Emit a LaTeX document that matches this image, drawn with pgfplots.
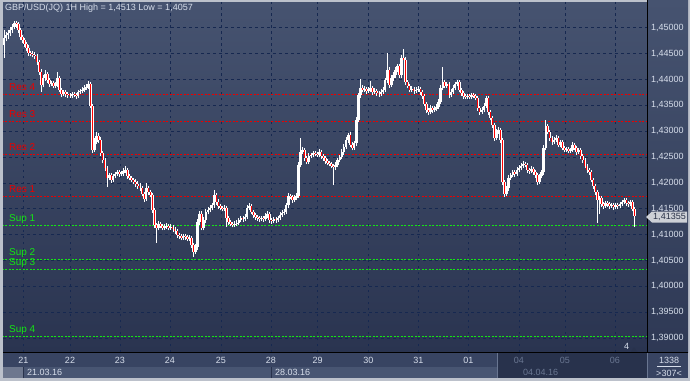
\documentclass[border=0pt]{standalone}
\usepackage{fontspec}
\setmainfont{Liberation Sans}
\usepackage{pgfplots}
\usepackage{pgfplotstable}
\pgfplotsset{compat=1.18}
\definecolor{bgtop}{RGB}{70,83,112}
\definecolor{bgbot}{RGB}{42,52,80}
\definecolor{gridc}{RGB}{22,40,80}
\definecolor{resred}{RGB}{235,0,0}
\definecolor{supgreen}{RGB}{20,230,20}
\definecolor{lbl}{RGB}{215,222,235}
\definecolor{lblgrey}{RGB}{105,118,145}
\definecolor{framec}{RGB}{188,193,203}
\definecolor{rowtop}{RGB}{56,68,98}
\definecolor{rowbot}{RGB}{72,85,114}
\definecolor{rowdark}{RGB}{40,50,76}
\definecolor{tagc}{RGB}{205,208,214}
\definecolor{tagtext}{RGB}{40,48,70}
\definecolor{candlered}{RGB}{255,0,0}

\pgfplotstableread{
i o h l c
0 1.4467 1.4496 1.4442 1.4480
1 1.4480 1.4492 1.4474 1.4486
2 1.4486 1.4496 1.4478 1.4490
3 1.4490 1.4502 1.4484 1.4496
4 1.4496 1.4508 1.4490 1.4502
5 1.4502 1.4513 1.4497 1.4510
6 1.4510 1.4513 1.4500 1.4508
7 1.4508 1.4512 1.4490 1.4496
8 1.4496 1.4500 1.4477 1.4482
9 1.4482 1.4486 1.4471 1.4477
10 1.4477 1.4481 1.4464 1.4469
11 1.4469 1.4473 1.4456 1.4461
12 1.4461 1.4466 1.4446 1.4451
13 1.4451 1.4456 1.4445 1.4450
14 1.4450 1.4455 1.4443 1.4448
15 1.4448 1.4453 1.4440 1.4446
16 1.4446 1.4450 1.4428 1.4434
17 1.4434 1.4438 1.4409 1.4415
18 1.4415 1.4420 1.4376 1.4390
19 1.4390 1.4408 1.4385 1.4403
20 1.4403 1.4419 1.4398 1.4411
21 1.4411 1.4415 1.4394 1.4399
22 1.4399 1.4404 1.4386 1.4391
23 1.4391 1.4398 1.4387 1.4393
24 1.4393 1.4397 1.4383 1.4388
25 1.4388 1.4395 1.4384 1.4390
26 1.4390 1.4415 1.4386 1.4403
27 1.4403 1.4407 1.4376 1.4380
28 1.4380 1.4384 1.4366 1.4372
29 1.4372 1.4380 1.4368 1.4376
30 1.4376 1.4380 1.4367 1.4372
31 1.4372 1.4376 1.4365 1.4370
32 1.4370 1.4374 1.4364 1.4368
33 1.4368 1.4376 1.4364 1.4372
34 1.4372 1.4376 1.4366 1.4370
35 1.4370 1.4374 1.4363 1.4368
36 1.4368 1.4380 1.4364 1.4376
37 1.4376 1.4382 1.4372 1.4378
38 1.4378 1.4386 1.4374 1.4380
39 1.4380 1.4390 1.4376 1.4384
40 1.4384 1.4391 1.4380 1.4386
41 1.4386 1.4397 1.4382 1.4391
42 1.4391 1.4395 1.4345 1.4349
43 1.4349 1.4353 1.4258 1.4264
44 1.4264 1.4287 1.4260 1.4279
45 1.4279 1.4299 1.4275 1.4291
46 1.4291 1.4296 1.4278 1.4283
47 1.4283 1.4288 1.4252 1.4258
48 1.4258 1.4262 1.4238 1.4244
49 1.4244 1.4248 1.4223 1.4229
50 1.4229 1.4233 1.4192 1.4210
51 1.4210 1.4220 1.4205 1.4215
52 1.4215 1.4219 1.4200 1.4206
53 1.4206 1.4218 1.4202 1.4213
54 1.4213 1.4222 1.4209 1.4217
55 1.4217 1.4226 1.4213 1.4221
56 1.4221 1.4225 1.4212 1.4217
57 1.4217 1.4224 1.4213 1.4219
58 1.4219 1.4228 1.4214 1.4223
59 1.4223 1.4232 1.4219 1.4225
60 1.4225 1.4229 1.4208 1.4213
61 1.4213 1.4218 1.4205 1.4210
62 1.4210 1.4214 1.4201 1.4206
63 1.4206 1.4210 1.4197 1.4202
64 1.4202 1.4207 1.4193 1.4198
65 1.4198 1.4203 1.4189 1.4194
66 1.4194 1.4199 1.4185 1.4190
67 1.4190 1.4194 1.4174 1.4179
68 1.4179 1.4183 1.4163 1.4169
69 1.4169 1.4200 1.4165 1.4190
70 1.4190 1.4195 1.4177 1.4182
71 1.4182 1.4187 1.4172 1.4177
72 1.4177 1.4181 1.4142 1.4148
73 1.4148 1.4152 1.4113 1.4119
74 1.4119 1.4123 1.4084 1.4113
75 1.4113 1.4126 1.4108 1.4121
76 1.4121 1.4125 1.4112 1.4117
77 1.4117 1.4121 1.4108 1.4113
78 1.4113 1.4120 1.4109 1.4115
79 1.4115 1.4122 1.4111 1.4117
80 1.4117 1.4121 1.4108 1.4113
81 1.4113 1.4120 1.4109 1.4115
82 1.4115 1.4119 1.4106 1.4111
83 1.4111 1.4115 1.4102 1.4107
84 1.4107 1.4111 1.4094 1.4099
85 1.4099 1.4104 1.4092 1.4097
86 1.4097 1.4101 1.4089 1.4094
87 1.4094 1.4102 1.4090 1.4097
88 1.4097 1.4101 1.4090 1.4095
89 1.4095 1.4099 1.4087 1.4092
90 1.4092 1.4099 1.4088 1.4094
91 1.4094 1.4098 1.4075 1.4080
92 1.4080 1.4084 1.4057 1.4067
93 1.4067 1.4081 1.4062 1.4076
94 1.4076 1.4130 1.4071 1.4124
95 1.4124 1.4146 1.4119 1.4140
96 1.4140 1.4145 1.4108 1.4113
97 1.4113 1.4134 1.4108 1.4128
98 1.4128 1.4150 1.4123 1.4144
99 1.4144 1.4153 1.4139 1.4148
100 1.4148 1.4157 1.4143 1.4152
101 1.4152 1.4162 1.4147 1.4157
102 1.4157 1.4186 1.4152 1.4177
103 1.4177 1.4181 1.4158 1.4163
104 1.4163 1.4168 1.4150 1.4155
105 1.4155 1.4159 1.4147 1.4152
106 1.4152 1.4156 1.4145 1.4150
107 1.4150 1.4157 1.4146 1.4152
108 1.4152 1.4156 1.4115 1.4132
109 1.4132 1.4136 1.4119 1.4124
110 1.4124 1.4128 1.4116 1.4121
111 1.4121 1.4125 1.4114 1.4119
112 1.4119 1.4126 1.4115 1.4121
113 1.4121 1.4128 1.4117 1.4123
114 1.4123 1.4133 1.4119 1.4128
115 1.4128 1.4137 1.4124 1.4132
116 1.4132 1.4136 1.4125 1.4130
117 1.4130 1.4139 1.4126 1.4134
118 1.4134 1.4157 1.4130 1.4152
119 1.4152 1.4161 1.4148 1.4155
120 1.4155 1.4159 1.4139 1.4144
121 1.4144 1.4148 1.4133 1.4138
122 1.4138 1.4142 1.4129 1.4134
123 1.4134 1.4138 1.4127 1.4132
124 1.4132 1.4136 1.4125 1.4130
125 1.4130 1.4137 1.4126 1.4132
126 1.4132 1.4136 1.4125 1.4130
127 1.4130 1.4141 1.4126 1.4136
128 1.4136 1.4145 1.4132 1.4140
129 1.4140 1.4144 1.4123 1.4128
130 1.4128 1.4132 1.4121 1.4126
131 1.4126 1.4135 1.4122 1.4130
132 1.4130 1.4134 1.4123 1.4128
133 1.4128 1.4137 1.4124 1.4132
134 1.4132 1.4143 1.4128 1.4138
135 1.4138 1.4147 1.4134 1.4142
136 1.4142 1.4149 1.4138 1.4144
137 1.4144 1.4162 1.4140 1.4157
138 1.4157 1.4181 1.4152 1.4175
139 1.4175 1.4179 1.4168 1.4173
140 1.4173 1.4177 1.4162 1.4167
141 1.4167 1.4176 1.4163 1.4171
142 1.4171 1.4180 1.4167 1.4175
143 1.4175 1.4240 1.4170 1.4235
144 1.4235 1.4287 1.4230 1.4260
145 1.4260 1.4270 1.4256 1.4264
146 1.4264 1.4268 1.4243 1.4248
147 1.4248 1.4252 1.4236 1.4241
148 1.4241 1.4257 1.4237 1.4252
149 1.4252 1.4258 1.4249 1.4254
150 1.4254 1.4262 1.4250 1.4258
151 1.4258 1.4262 1.4252 1.4256
152 1.4256 1.4260 1.4250 1.4254
153 1.4254 1.4265 1.4250 1.4260
154 1.4260 1.4264 1.4247 1.4252
155 1.4252 1.4256 1.4243 1.4248
156 1.4248 1.4252 1.4237 1.4242
157 1.4242 1.4246 1.4234 1.4239
158 1.4239 1.4243 1.4232 1.4237
159 1.4237 1.4241 1.4228 1.4233
160 1.4233 1.4237 1.4196 1.4231
161 1.4231 1.4240 1.4226 1.4235
162 1.4235 1.4249 1.4230 1.4244
163 1.4244 1.4255 1.4240 1.4250
164 1.4250 1.4265 1.4246 1.4260
165 1.4260 1.4275 1.4255 1.4270
166 1.4270 1.4288 1.4265 1.4283
167 1.4283 1.4297 1.4278 1.4293
168 1.4293 1.4298 1.4269 1.4274
169 1.4274 1.4279 1.4263 1.4268
170 1.4268 1.4282 1.4264 1.4277
171 1.4277 1.4327 1.4272 1.4322
172 1.4322 1.4375 1.4317 1.4370
173 1.4370 1.4401 1.4365 1.4384
174 1.4384 1.4389 1.4375 1.4380
175 1.4380 1.4387 1.4376 1.4382
176 1.4382 1.4386 1.4373 1.4378
177 1.4378 1.4385 1.4374 1.4380
178 1.4380 1.4397 1.4376 1.4384
179 1.4384 1.4388 1.4371 1.4376
180 1.4376 1.4383 1.4372 1.4378
181 1.4378 1.4382 1.4369 1.4374
182 1.4374 1.4378 1.4367 1.4372
183 1.4372 1.4381 1.4368 1.4376
184 1.4376 1.4385 1.4372 1.4380
185 1.4380 1.4404 1.4376 1.4399
186 1.4399 1.4451 1.4394 1.4419
187 1.4419 1.4424 1.4384 1.4390
188 1.4390 1.4408 1.4386 1.4403
189 1.4403 1.4414 1.4398 1.4409
190 1.4409 1.4424 1.4404 1.4419
191 1.4419 1.4431 1.4414 1.4426
192 1.4426 1.4430 1.4404 1.4409
193 1.4409 1.4447 1.4404 1.4442
194 1.4442 1.4459 1.4437 1.4438
195 1.4438 1.4443 1.4390 1.4395
196 1.4395 1.4400 1.4383 1.4388
197 1.4388 1.4392 1.4375 1.4380
198 1.4380 1.4387 1.4376 1.4382
199 1.4382 1.4386 1.4373 1.4378
200 1.4378 1.4385 1.4374 1.4380
201 1.4380 1.4387 1.4376 1.4382
202 1.4382 1.4386 1.4371 1.4376
203 1.4376 1.4380 1.4363 1.4368
204 1.4368 1.4372 1.4348 1.4353
205 1.4353 1.4357 1.4336 1.4341
206 1.4341 1.4345 1.4332 1.4337
207 1.4337 1.4350 1.4333 1.4345
208 1.4345 1.4349 1.4336 1.4341
209 1.4341 1.4348 1.4337 1.4343
210 1.4343 1.4352 1.4339 1.4347
211 1.4347 1.4362 1.4343 1.4357
212 1.4357 1.4389 1.4352 1.4384
213 1.4384 1.4424 1.4379 1.4395
214 1.4395 1.4400 1.4383 1.4388
215 1.4388 1.4396 1.4384 1.4391
216 1.4391 1.4395 1.4365 1.4370
217 1.4370 1.4381 1.4366 1.4376
218 1.4376 1.4389 1.4372 1.4384
219 1.4384 1.4396 1.4380 1.4391
220 1.4391 1.4400 1.4387 1.4395
221 1.4395 1.4399 1.4375 1.4380
222 1.4380 1.4384 1.4369 1.4374
223 1.4374 1.4378 1.4363 1.4368
224 1.4368 1.4372 1.4362 1.4366
225 1.4366 1.4373 1.4362 1.4368
226 1.4368 1.4372 1.4362 1.4366
227 1.4366 1.4375 1.4362 1.4370
228 1.4370 1.4374 1.4364 1.4368
229 1.4368 1.4372 1.4360 1.4364
230 1.4364 1.4368 1.4340 1.4345
231 1.4345 1.4349 1.4332 1.4337
232 1.4337 1.4346 1.4333 1.4341
233 1.4341 1.4354 1.4337 1.4349
234 1.4349 1.4368 1.4345 1.4364
235 1.4364 1.4368 1.4332 1.4337
236 1.4337 1.4341 1.4321 1.4326
237 1.4326 1.4330 1.4307 1.4312
238 1.4312 1.4316 1.4282 1.4287
239 1.4287 1.4304 1.4283 1.4299
240 1.4299 1.4308 1.4295 1.4303
241 1.4303 1.4307 1.4278 1.4283
242 1.4283 1.4287 1.4196 1.4202
243 1.4202 1.4206 1.4173 1.4179
244 1.4179 1.4195 1.4174 1.4190
245 1.4190 1.4215 1.4185 1.4210
246 1.4210 1.4220 1.4206 1.4215
247 1.4215 1.4226 1.4211 1.4221
248 1.4221 1.4225 1.4212 1.4217
249 1.4217 1.4230 1.4213 1.4225
250 1.4225 1.4234 1.4221 1.4229
251 1.4229 1.4238 1.4225 1.4233
252 1.4233 1.4242 1.4229 1.4237
253 1.4237 1.4241 1.4230 1.4235
254 1.4235 1.4239 1.4220 1.4225
255 1.4225 1.4229 1.4218 1.4223
256 1.4223 1.4232 1.4219 1.4227
257 1.4227 1.4231 1.4216 1.4221
258 1.4221 1.4225 1.4210 1.4215
259 1.4215 1.4219 1.4196 1.4202
260 1.4202 1.4218 1.4198 1.4213
261 1.4213 1.4226 1.4209 1.4221
262 1.4221 1.4273 1.4216 1.4268
263 1.4268 1.4322 1.4263 1.4310
264 1.4310 1.4314 1.4294 1.4299
265 1.4299 1.4303 1.4282 1.4287
266 1.4287 1.4291 1.4274 1.4279
267 1.4279 1.4288 1.4275 1.4283
268 1.4283 1.4292 1.4279 1.4287
269 1.4287 1.4291 1.4269 1.4274
270 1.4274 1.4284 1.4270 1.4279
271 1.4279 1.4283 1.4263 1.4268
272 1.4268 1.4272 1.4259 1.4264
273 1.4264 1.4270 1.4260 1.4266
274 1.4266 1.4270 1.4257 1.4262
275 1.4262 1.4268 1.4258 1.4264
276 1.4264 1.4279 1.4260 1.4274
277 1.4274 1.4278 1.4263 1.4268
278 1.4268 1.4272 1.4255 1.4260
279 1.4260 1.4268 1.4256 1.4264
280 1.4264 1.4268 1.4247 1.4252
281 1.4252 1.4256 1.4239 1.4244
282 1.4244 1.4248 1.4228 1.4233
283 1.4233 1.4237 1.4220 1.4225
284 1.4225 1.4229 1.4216 1.4221
285 1.4221 1.4225 1.4201 1.4206
286 1.4206 1.4210 1.4189 1.4194
287 1.4194 1.4198 1.4177 1.4182
288 1.4182 1.4186 1.4123 1.4167
289 1.4167 1.4175 1.4140 1.4171
290 1.4171 1.4175 1.4154 1.4159
291 1.4159 1.4163 1.4150 1.4155
292 1.4155 1.4165 1.4151 1.4161
293 1.4161 1.4165 1.4154 1.4159
294 1.4159 1.4163 1.4150 1.4155
295 1.4155 1.4161 1.4151 1.4157
296 1.4157 1.4161 1.4148 1.4153
297 1.4153 1.4161 1.4149 1.4157
298 1.4157 1.4161 1.4150 1.4155
299 1.4155 1.4163 1.4151 1.4159
300 1.4159 1.4167 1.4155 1.4163
301 1.4163 1.4171 1.4159 1.4167
302 1.4167 1.4171 1.4156 1.4161
303 1.4161 1.4165 1.4154 1.4159
304 1.4159 1.4167 1.4155 1.4163
305 1.4163 1.4167 1.4145 1.4150
306 1.4150 1.4154 1.4115 1.41355
}\data

\begin{document}
\begin{tikzpicture}[x=1pt,y=1pt]
\path[use as bounding box] (0,0) rectangle (690,381);
\fill[framec] (0,0) rectangle (690,381);
% right panel
\shade[top color=bgtop, bottom color=bgbot!85!bgtop] (647,29) rectangle (688,381);
% bottom strip
\fill[rowtop] (3,14.3) rectangle (647,29);
\fill[rowbot] (3,3) rectangle (647,14.3);
\fill[rowbot!80!white] (3,3) rectangle (23,14.3);
\fill[rowdark] (497,3) rectangle (647,29);
\fill[rowtop] (647,3) rectangle (688,29);
\draw[rowdark, line width=0.8pt] (23.3,3) -- (23.3,14.3);
\draw[rowdark, line width=0.8pt] (271,3) -- (271,14.3);
\draw[lblgrey, line width=0.8pt] (497,3) -- (497,29);
\draw[lblgrey, line width=0.6pt] (647.5,3) -- (647.5,29);

\begin{axis}[
  at={(3pt,29pt)}, anchor=south west,
  scale only axis, width=644pt, height=350pt,
  xmin=-0.485, xmax=312.14, ymin=1.38729, ymax=1.45501,
  axis background/.style={top color=bgtop, bottom color=bgbot},
  axis line style={draw=none},
  tick style={draw=none},
  major tick length=0pt,
  grid=major,
  major grid style={gridc, line width=0.8pt, dash pattern=on 2.5pt off 3.5pt},
  ytick={1.39,1.395,1.40,1.405,1.41,1.415,1.42,1.425,1.43,1.435,1.44,1.445,1.45},
  yticklabel pos=right,
  yticklabel style={anchor=west, inner sep=0pt, xshift=4pt, text=lbl,
    font=\fontsize{9}{10}\selectfont,
    /pgf/number format/.cd, fixed, fixed zerofill, precision=5, use comma, assume math mode=true},
  xtick={9.37,32.04,56.31,80.58,105.34,129.61,152.28,176.84,201.12,225.39,250.0,272.33,296.6},
  xticklabels={21,22,23,24,25,28,29,30,31,01,\textcolor{lblgrey}{04},\textcolor{lblgrey}{05},\textcolor{lblgrey}{06}},
  xticklabel style={anchor=north, inner sep=0pt, yshift=-5pt, text=lbl,
    font=\fontsize{9}{10}\selectfont},
  clip=true,
]
% resistance / support lines
\addplot[resred, line width=0.8pt, dash pattern=on 2pt off 1.5pt] coordinates {(-1,1.43717) (313,1.43717)};
\addplot[resred, line width=0.8pt, dash pattern=on 2pt off 1.5pt] coordinates {(-1,1.43194) (313,1.43194)};
\addplot[resred, line width=0.8pt, dash pattern=on 2pt off 1.5pt] coordinates {(-1,1.42556) (313,1.42556)};
\addplot[resred, line width=0.8pt, dash pattern=on 2pt off 1.5pt] coordinates {(-1,1.41735) (313,1.41735)};
\addplot[supgreen, line width=0.8pt, dash pattern=on 2pt off 1.5pt] coordinates {(-1,1.41187) (313,1.41187)};
\addplot[supgreen, line width=0.8pt, dash pattern=on 2pt off 1.5pt] coordinates {(-1,1.40523) (313,1.40523)};
\addplot[supgreen, line width=0.8pt, dash pattern=on 2pt off 1.5pt] coordinates {(-1,1.40330) (313,1.40330)};
\addplot[supgreen, line width=0.8pt, dash pattern=on 2pt off 1.5pt] coordinates {(-1,1.39033) (313,1.39033)};
% candles: wicks
\addplot[white, line width=0.8pt, -, quiver={u=0, v=\thisrow{h}-\thisrow{l}}] table[x=i, y=l] {\data};
% bodies
\addplot[white, line width=2.5pt, -, quiver={u=0, v=\thisrow{c}-\thisrow{o}}] table[x=i, y=o] {\data};
% down-candle inner
\addplot[candlered, line width=1.0pt, -, quiver={u=0, v=\thisrow{c}-\thisrow{o}},
  unbounded coords=discard,
  y filter/.expression={\thisrow{c}<\thisrow{o} ? \thisrow{o} : nan}] table[x=i, y=o] {\data};
% labels
\node[anchor=base west, inner sep=0pt, text=resred, font=\fontsize{10}{12}\selectfont, yshift=4pt] at (axis cs:2.4,1.43717) {Res 4};
\node[anchor=base west, inner sep=0pt, text=resred, font=\fontsize{10}{12}\selectfont, yshift=4pt] at (axis cs:2.4,1.43194) {Res 3};
\node[anchor=base west, inner sep=0pt, text=resred, font=\fontsize{10}{12}\selectfont, yshift=4pt] at (axis cs:2.4,1.42556) {Res 2};
\node[anchor=base west, inner sep=0pt, text=resred, font=\fontsize{10}{12}\selectfont, yshift=4pt] at (axis cs:2.4,1.41735) {Res 1};
\node[anchor=base west, inner sep=0pt, text=supgreen, font=\fontsize{10}{12}\selectfont, yshift=3.5pt] at (axis cs:2.4,1.41187) {Sup 1};
\node[anchor=base west, inner sep=0pt, text=supgreen, font=\fontsize{10}{12}\selectfont, yshift=3.5pt] at (axis cs:2.4,1.40523) {Sup 2};
\node[anchor=base west, inner sep=0pt, text=supgreen, font=\fontsize{10}{12}\selectfont, yshift=3.5pt] at (axis cs:2.4,1.40330) {Sup 3};
\node[anchor=base west, inner sep=0pt, text=supgreen, font=\fontsize{10}{12}\selectfont, yshift=3.5pt] at (axis cs:2.4,1.39033) {Sup 4};
\end{axis}

% frame lines
\draw[black, line width=1pt] (647,29) -- (647,381);
\draw[black, line width=1pt] (3,29) -- (688,29);
% title
\node[anchor=base west, inner sep=0pt, text=lbl, font=\fontsize{9}{10}\selectfont] at (5,370) {GBP/USD(JQ) 1H High = 1,4513 Low = 1,4057};
% current price tag
\fill[tagc] (646,164) -- (652,169.5) -- (687,169.5) -- (687,158.5) -- (652,158.5) -- cycle;
\node[inner sep=0pt, text=tagtext, font=\fontsize{9}{10}\selectfont] at (669.5,164) {1,41355};
% bottom texts
\node[anchor=base west, inner sep=0pt, text=lbl, font=\fontsize{9}{10}\selectfont] at (624,31.5) {4};
\fill[rowdark] (631,29.5) -- (637,29.5) -- (634,33.5) -- cycle;
\node[anchor=base west, inner sep=0pt, text=lbl, font=\fontsize{9}{10}\selectfont] at (27,6) {21.03.16};
\node[anchor=base west, inner sep=0pt, text=lbl, font=\fontsize{9}{10}\selectfont] at (275,6) {28.03.16};
\node[anchor=base west, inner sep=0pt, text=lblgrey, font=\fontsize{9}{10}\selectfont] at (523,6) {04.04.16};
\node[anchor=base, inner sep=0pt, text=lbl, font=\fontsize{9}{10}\selectfont] at (669,17.5) {1338};
\draw[lbl, line width=0.5pt] (657,15) -- (681,15);
\node[anchor=base, inner sep=0pt, text=lbl, font=\fontsize{9}{10}\selectfont] at (669,5) {>307<};
\end{tikzpicture}
\end{document}
